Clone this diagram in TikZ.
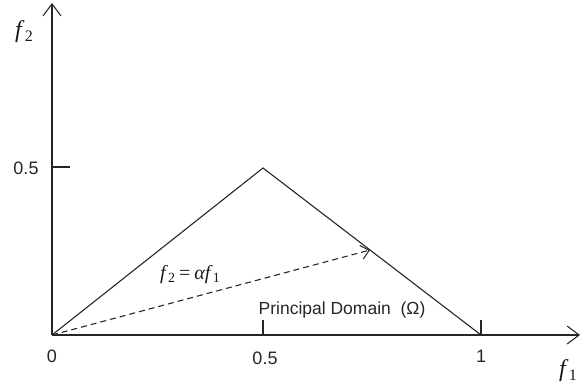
\documentclass[tikz,border=0pt]{standalone}
\usepackage{fontspec}
\setmainfont{Liberation Serif}
\setsansfont{Liberation Sans}
\usetikzlibrary{arrows.meta}
\newcommand{\fsub}[2]{\textit{f}\kern0.3pt\raisebox{-0.3ex}{\fontsize{#2}{#2}\selectfont #1}}
\begin{document}
\begin{tikzpicture}[x=1pt,y=-1pt,
  axis/.style={line width=1.3pt, draw=black!85},
  edge/.style={line width=1.1pt, draw=black!85},
  vtip/.style={-{Straight Barb[length=12pt,width=18pt,line width=1.1pt]}},
  tick/.style={line width=1.1pt, draw=black!85},
  num/.style={font=\sffamily\fontsize{18}{20}\selectfont, text=black!85},
  var/.style={font=\fontsize{24}{26}\selectfont, text=black!90}]
\useasboundingbox (0,0) rectangle (580,385);
\coordinate (O) at (52,335);
\coordinate (ytop) at (52,3);
\coordinate (xend) at (580,335);
\coordinate (P) at (263,168);
\coordinate (R) at (481,335);
\coordinate (H) at (370,250);
\coordinate (yt) at (70,167);
\coordinate (yt0) at (52,167);
\coordinate (xt5) at (263,335);
\coordinate (xt5a) at (263,320);
\coordinate (xt1) at (481,335);
\coordinate (xt1a) at (481,320);
\draw[axis,vtip] (O) -- (ytop);
\draw[axis,vtip] (O) -- (xend);
\draw[tick] (yt0) -- (yt);
\draw[tick] (xt5) -- (xt5a);
\draw[tick] (xt1) -- (xt1a);
\draw[edge] (O) -- (P) -- (R);
\draw[edge,dashed,dash pattern=on 6pt off 4pt,-{Straight Barb[length=8pt,width=14pt,line width=1pt]}] (O) -- (H);
\node[var] (f2) at (24,32) {\fsub{2}{16}};
\node[var] (f1) at (568,371) {\fsub{1}{16}};
\node[num] (l05y) at (26,168) {0.5};
\node[num] (l0) at (52,356) {0};
\node[num] (l05) at (265,358) {0.5};
\node[num] (l1) at (481,356) {1};
\node[font=\fontsize{20}{22}\selectfont, text=black!90, inner sep=0pt] (eq) at (190,275) {\fsub{2}{14}\kern4pt=\kern4pt\textit{α}\kern-0.5pt\fsub{1}{14}};
\node[num, font=\sffamily\fontsize{17.5}{20}\selectfont] (pd) at (342,310) {Principal Domain\ \ (Ω)};
\end{tikzpicture}
\end{document}
